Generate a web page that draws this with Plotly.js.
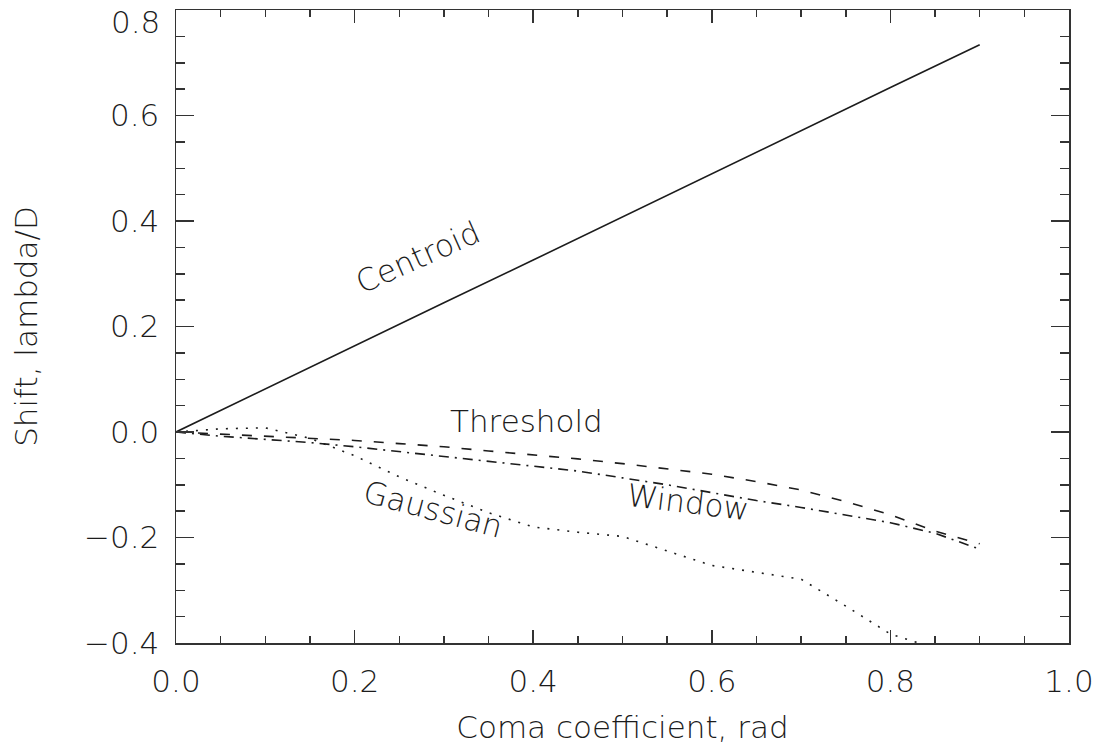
<!DOCTYPE html>
<html>
<head>
<meta charset="utf-8">
<script src="https://cdn.plot.ly/plotly-3.0.1.min.js"></script>
<style>html,body{margin:0;padding:0;background:#fff;}#chart{width:1099px;height:750px;}</style>
</head>
<body>
<div id="chart"></div>
<script>
// Coma coefficient (rad)
const xCentroid = [0.0, 0.1, 0.2, 0.3, 0.4, 0.5, 0.6, 0.7, 0.8, 0.9];
const centroid  = [0.0, 0.082, 0.163, 0.245, 0.326, 0.408, 0.490, 0.571, 0.653, 0.734];

const xFine = [0.0, 0.05, 0.1, 0.15, 0.2, 0.25, 0.3, 0.35, 0.4, 0.45, 0.5, 0.55, 0.6, 0.65, 0.7, 0.75, 0.8, 0.85, 0.9];
const threshold = [0.0, -0.004, -0.008, -0.012, -0.016, -0.022, -0.028, -0.036, -0.043, -0.051, -0.060, -0.070, -0.080, -0.094, -0.110, -0.132, -0.157, -0.188, -0.212];
const windowS   = [0.0, -0.008, -0.014, -0.020, -0.028, -0.037, -0.046, -0.055, -0.064, -0.074, -0.087, -0.100, -0.115, -0.130, -0.143, -0.157, -0.172, -0.192, -0.222];
const gaussian  = [0.0, 0.006, 0.008, -0.012, -0.045, -0.085, -0.120, -0.153, -0.180, -0.190, -0.198, -0.225, -0.253, -0.266, -0.279, -0.330, -0.383, -0.410, -0.430];

const seriesLabels = ["Centroid", "Threshold", "Window", "Gaussian"];
const xTickVals = [0.0, 0.2, 0.4, 0.6, 0.8, 1.0];
const xTickText = ["0.0", "0.2", "0.4", "0.6", "0.8", "1.0"];
// the top label (0.8) sits just below its tick, as in the original, so it is drawn as an annotation
const yTickVals = [-0.4, -0.2, 0.0, 0.2, 0.4, 0.6, 0.8];
const yTickText = ["\u22120.4", "\u22120.2", "0.0", "0.2", "0.4", "0.6", ""];
const yTopTick = 0.8;
const yTopLabel = "0.8";
const xTitle = "Coma coefficient, rad";
const yTitle = "Shift, lambda/D";

const FONT = "DejaVu Sans, Liberation Sans, sans-serif";
const INK = "#1c1c1c";
const fnt = (s) => ({family: FONT, size: s, color: INK, weight: 300});

const traces = [
  {x: xCentroid, y: centroid, mode: "lines", name: seriesLabels[0], line: {color: INK, width: 1.6, dash: "solid"}},
  {x: xFine, y: threshold, mode: "lines", name: seriesLabels[1], line: {color: INK, width: 1.6, dash: "10px,12px"}},
  {x: xFine, y: windowS, mode: "lines", name: seriesLabels[2], line: {color: INK, width: 1.6, dash: "10px,6px,2px,6px"}},
  {x: xFine, y: gaussian, mode: "lines", name: seriesLabels[3], line: {color: INK, width: 1.6, dash: "2px,8px"}}
];

const ann = (text, x, y, angle) => ({
  text: text, x: x, y: y, xref: "x", yref: "y", showarrow: false,
  xanchor: "center", yanchor: "middle", textangle: angle,
  font: fnt(31)
});

const minorY = {ticks: "inside", dtick: 0.05, tick0: 0, ticklen: 9, tickwidth: 1.5, tickcolor: "#333", showgrid: false};
const minorX = {ticks: "inside", dtick: 0.05, tick0: 0, ticklen: 7, tickwidth: 1.5, tickcolor: "#333", showgrid: false};

const layout = {
  width: 1099, height: 750,
  margin: {l: 176, r: 30, t: 10, b: 107, pad: 0},
  paper_bgcolor: "#fff", plot_bgcolor: "#fff",
  showlegend: false,
  font: fnt(31),
  xaxis: {
    range: [0, 1.0], tickmode: "array", tickvals: xTickVals, ticktext: xTickText,
    showgrid: false, zeroline: false,
    showline: true, linecolor: "#333", linewidth: 1.5, mirror: "ticks",
    ticks: "inside", ticklen: 13, tickwidth: 1.5, tickcolor: "#333",
    minor: minorX,
    ticklabelstandoff: 10,
    tickfont: fnt(31),
    title: {text: xTitle, font: fnt(31), standoff: 18},
    automargin: false
  },
  yaxis: {
    range: [-0.4, 0.8], tickmode: "array", tickvals: yTickVals, ticktext: yTickText,
    showgrid: false, zeroline: false,
    showline: true, linecolor: "#333", linewidth: 1.5, mirror: "ticks",
    ticks: "inside", ticklen: 18, tickwidth: 1.5, tickcolor: "#333",
    minor: minorY,
    ticklabelstandoff: 9,
    tickfont: fnt(31),
    title: {text: yTitle, font: fnt(31), standoff: 37},
    automargin: false
  },
  annotations: [
    ann(seriesLabels[0], 0.271, 0.331, -24),
    ann(seriesLabels[1], 0.393, 0.021, 0),
    ann(seriesLabels[2], 0.573, -0.132, 7),
    ann(seriesLabels[3], 0.288, -0.146, 15),
    {text: yTopLabel, xref: "paper", yref: "y", x: 0, y: yTopTick, xanchor: "right", yanchor: "top",
     xshift: -14, yshift: 8, showarrow: false, font: fnt(31)}
  ]
};

Plotly.newPlot("chart", traces, layout, {displayModeBar: false, staticPlot: true});
</script>
</body>
</html>
